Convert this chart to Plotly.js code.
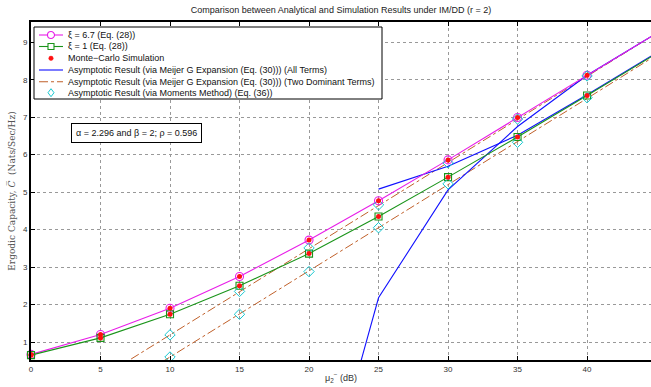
<!DOCTYPE html>
<html>
<head>
<meta charset="utf-8">
<script src="https://cdn.plot.ly/plotly-3.0.1.min.js"></script>
<style>html,body{margin:0;padding:0;background:#fff;}#chart{width:651px;height:387px;}</style>
</head>
<body>
<div id="chart"></div>
<script>
// ---- data ----
const snrDb = [0, 5, 10, 15, 20, 25, 30, 35, 40, 45];
const capXi67 = [0.67, 1.20, 1.90, 2.75, 3.72, 4.77, 5.86, 6.99, 8.12, 9.24];
const capXi1  = [0.65, 1.11, 1.74, 2.50, 3.36, 4.35, 5.40, 6.47, 7.58, 8.70];

const allTermsX67 = [20, 25, 30, 35, 40, 45];
const allTermsY67 = [-4.5, 2.18, 5.06, 6.75, 8.12, 9.24];
const allTermsX1  = [25, 30, 35, 40, 45];
const allTermsY1  = [5.08, 5.69, 6.52, 7.60, 8.72];

const twoTermsX   = [5, 10, 15, 20, 25, 30, 35, 40, 45];
const twoTermsY67 = [0.04, 1.19, 2.35, 3.50, 4.66, 5.80, 6.96, 8.10, 9.24];
const twoTermsY1  = [-0.55, 0.60, 1.74, 2.88, 4.03, 5.18, 6.33, 7.50, 8.66];

const momentsX   = [10, 15, 20, 25, 30, 35, 40, 45];
const momentsY67 = [1.19, 2.35, 3.51, 4.66, 5.78, 6.95, 8.10, 9.24];
const momentsY1  = [0.60, 1.74, 2.88, 4.05, 5.22, 6.33, 7.52, 8.68];

const legendLabels = [
  "ξ = 6.7 (Eq. (28))",
  "ξ = 1 (Eq. (28))",
  "Monte−Carlo Simulation",
  "Asymptotic Result (via Meijer G Expansion (Eq. (30))) (All Terms)",
  "Asymptotic Result (via Meijer G Expansion (Eq. (30))) (Two Dominant Terms)",
  "Asymptotic Result (via Moments Method) (Eq. (36))"
];

// ---- styling ----
const MAG = '#e81ee8', GRN = '#1a941a', RED = '#ff1010', BLU = '#1010ff', BRN = '#c0602a', CYA = '#18c8d0';
const W = 651, H = 387, ML = 31, MR = 0, MT = 22, MB = 27;
const PW = W - ML - MR, PH = H - MT - MB;
const px = x => (x - ML) / PW;          // figure px -> paper x
const py = y => (H - MB - y) / PH;      // figure px -> paper y

const traces = [
  {x: twoTermsX, y: twoTermsY67, mode: 'lines', line: {color: BRN, width: 1, dash: 'dashdot'}, cliponaxis: true},
  {x: twoTermsX, y: twoTermsY1, mode: 'lines', line: {color: BRN, width: 1, dash: 'dashdot'}, cliponaxis: true},
  {x: allTermsX67, y: allTermsY67, mode: 'lines', line: {color: BLU, width: 1.1}},
  {x: allTermsX1, y: allTermsY1, mode: 'lines', line: {color: BLU, width: 1.1}},
  {x: snrDb, y: capXi67, mode: 'lines+markers', line: {color: MAG, width: 1.1},
   marker: {symbol: 'circle-open', size: 8, color: MAG, line: {width: 1.1}}, cliponaxis: false},
  {x: snrDb, y: capXi1, mode: 'lines+markers', line: {color: GRN, width: 1.1},
   marker: {symbol: 'square-open', size: 7, color: GRN, line: {width: 1.1}}, cliponaxis: false},
  {x: momentsX, y: momentsY67, mode: 'markers', marker: {symbol: 'diamond-open', size: 8, color: CYA, line: {width: 1}}, cliponaxis: false},
  {x: momentsX, y: momentsY1, mode: 'markers', marker: {symbol: 'diamond-open', size: 8, color: CYA, line: {width: 1}}, cliponaxis: false},
  {x: snrDb, y: capXi67, mode: 'markers', marker: {symbol: 'circle', size: 5, color: RED}, cliponaxis: false},
  {x: snrDb, y: capXi1, mode: 'markers', marker: {symbol: 'circle', size: 5, color: RED}, cliponaxis: false}
];
traces.forEach(t => { t.showlegend = false; t.hoverinfo = 'skip'; });

// ---- custom legend (compact, like the reference) ----
const shapes = [];
const annotations = [];
const lgX0 = 34, lgX1 = 382, lgY0 = 27, lgY1 = 99;
shapes.push({type: 'rect', xref: 'paper', yref: 'paper', x0: px(lgX0), x1: px(lgX1), y0: py(lgY1), y1: py(lgY0),
  line: {color: '#000', width: 1}, fillcolor: '#fff', layer: 'above'});
const rowY = [35, 46.5, 58.3, 70, 81.7, 92.7];
const lineX0 = 39, lineX1 = 63, mX = 51, txtX = 66;
const lineStyles = [
  {color: MAG, dash: 'solid'}, {color: GRN, dash: 'solid'}, null,
  {color: BLU, dash: 'solid'}, {color: BRN, dash: 'dashdot'}, null
];
rowY.forEach((ry, i) => {
  const ls = lineStyles[i];
  if (ls) shapes.push({type: 'line', xref: 'paper', yref: 'paper', x0: px(lineX0), x1: px(lineX1), y0: py(ry), y1: py(ry),
    line: {color: ls.color, width: 1.1, dash: ls.dash}, layer: 'above'});
  annotations.push({xref: 'paper', yref: 'paper', x: px(txtX), y: py(ry), xanchor: 'left', yanchor: 'middle',
    text: legendLabels[i], showarrow: false, font: {family: 'Liberation Sans, Arial, sans-serif', size: 9, color: '#111'}});
});
// legend markers
const r1 = 3.5;
shapes.push({type: 'circle', xref: 'paper', yref: 'paper', x0: px(mX - r1), x1: px(mX + r1), y0: py(rowY[0] + r1), y1: py(rowY[0] - r1),
  line: {color: MAG, width: 1.1}, fillcolor: '#fff', layer: 'above'});
shapes.push({type: 'rect', xref: 'paper', yref: 'paper', x0: px(mX - 3), x1: px(mX + 3), y0: py(rowY[1] + 3), y1: py(rowY[1] - 3),
  line: {color: GRN, width: 1.1}, fillcolor: '#fff', layer: 'above'});
shapes.push({type: 'circle', xref: 'paper', yref: 'paper', x0: px(mX - 2.2), x1: px(mX + 2.2), y0: py(rowY[2] + 2.2), y1: py(rowY[2] - 2.2),
  line: {color: RED, width: 0.5}, fillcolor: RED, layer: 'above'});
const dy = rowY[5], d = 4;
shapes.push({type: 'path', xref: 'paper', yref: 'paper',
  path: `M ${px(mX)} ${py(dy - d)} L ${px(mX + 3)} ${py(dy)} L ${px(mX)} ${py(dy + d)} L ${px(mX - 3)} ${py(dy)} Z`,
  line: {color: CYA, width: 1}, fillcolor: 'rgba(255,255,255,1)', layer: 'above'});

// parameter box
annotations.push({xref: 'paper', yref: 'paper', x: px(136), y: py(132.5), xanchor: 'center', yanchor: 'middle',
  text: 'α = 2.296 and β = 2; ρ = 0.596', showarrow: false,
  font: {family: 'Liberation Sans, Arial, sans-serif', size: 9, color: '#111'},
  bgcolor: '#fff', bordercolor: '#000', borderwidth: 1, borderpad: 4});

const axisCommon = {
  showline: true, linecolor: '#000', linewidth: 2,
  ticks: 'inside', ticklen: 4, tickcolor: '#000', tickwidth: 1,
  showgrid: true, gridcolor: '#999', griddash: 'dot', gridwidth: 1,
  zeroline: false,
  tickfont: {family: 'Liberation Sans, Arial, sans-serif', size: 8, color: '#333'}
};

const layout = {
  width: W, height: H,
  margin: {l: ML, r: MR, t: MT, b: MB, pad: 0},
  paper_bgcolor: '#fff', plot_bgcolor: '#fff',
  showlegend: false,
  title: {text: 'Comparison between Analytical and Simulation Results under IM/DD (r = 2)',
    x: 0.5, xref: 'paper', y: 1 - 10 / H, yref: 'container', yanchor: 'middle',
    font: {family: 'Liberation Sans, Arial, sans-serif', size: 9, color: '#222'}},
  xaxis: Object.assign({}, axisCommon, {
    range: [0, 44.6], tickvals: snrDb, mirror: 'ticks',
    title: {text: 'μ<sub>2</sub><sup>−</sup> (dB)', standoff: 2,
      font: {family: 'Liberation Sans, Arial, sans-serif', size: 9, color: '#333'}}
  }),
  yaxis: Object.assign({}, axisCommon, {
    range: [0.52, 9.54], tickvals: [1, 2, 3, 4, 5, 6, 7, 8, 9],
    title: {text: 'Ergodic Capacity, <i>C\u0305</i>  (Nats/Sec/Hz)', standoff: 6,
      font: {family: 'DejaVu Serif, Liberation Serif, serif', size: 9, color: '#555'}}
  }),
  shapes: shapes,
  annotations: annotations
};

Plotly.newPlot('chart', traces, layout, {staticPlot: true, displayModeBar: false});
</script>
</body>
</html>
